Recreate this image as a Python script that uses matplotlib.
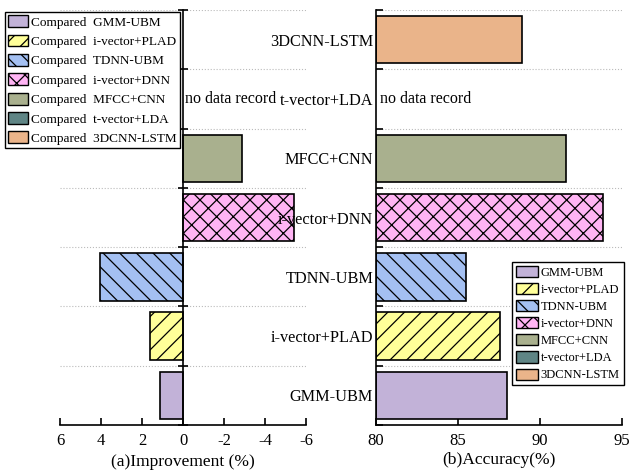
import numpy as np
import matplotlib
matplotlib.use('Agg')
import matplotlib.pyplot as plt
from matplotlib.patches import Patch

plt.rcParams['font.family'] = ['Liberation Serif', 'DejaVu Serif']
plt.rcParams['hatch.linewidth'] = 0.9

methods = ['GMM-UBM', 'i-vector+PLAD', 'TDNN-UBM', 'i-vector+DNN',
           'MFCC+CNN', 't-vector+LDA', '3DCNN-LSTM']
improvement = [1.1, 1.6, 4.05, -5.4, -2.9, np.nan, np.nan]
accuracy = [87.97, 87.55, 85.5, 93.85, 91.57, np.nan, 88.9]

colors = ['#c2b2d8', '#ffff99', '#a4c0f2', '#ffb4f4', '#a9b08e', '#5f8585', '#eab48a']
hatches = ['', '//', '\\\\', 'xx', '', '', '']

fig = plt.figure(figsize=(6.3, 4.75), dpi=100)
ax1 = fig.add_axes([60 / 630, 1 - 425 / 475, 246 / 630, 415 / 475])
ax2 = fig.add_axes([376 / 630, 1 - 425 / 475, 246 / 630, 415 / 475])

y = np.arange(len(methods))
for i in range(len(methods)):
    if not np.isnan(improvement[i]):
        ax1.barh(y[i], improvement[i], height=0.8, color=colors[i],
                 hatch=hatches[i], edgecolor='black', linewidth=1.2)
    if not np.isnan(accuracy[i]):
        ax2.barh(y[i], accuracy[i] - 80, left=80, height=0.8, color=colors[i],
                 hatch=hatches[i], edgecolor='black', linewidth=1.2)

# left panel
ax1.set_xlim(6, -6)
ax1.set_ylim(-0.5, 6.5)
ax1.spines['left'].set_position(('data', 0))
ax1.spines['right'].set_visible(False)
ax1.spines['top'].set_visible(False)
ax1.spines['left'].set_linewidth(1.2)
ax1.spines['bottom'].set_linewidth(1.2)
ax1.set_xticks([6, 4, 2, 0, -2, -4, -6])
ax1.set_xticklabels(['6', '4', '2', '0', '-2', '-4', '-6'])
ax1.set_yticks(np.arange(-0.5, 7, 1))
ax1.set_yticklabels([])
ax1.tick_params(axis='y', direction='inout', length=7, width=1.2)
ax1.tick_params(axis='x', direction='in', length=5, width=1.2, labelsize=12, pad=6)
ax1.yaxis.grid(True, linestyle=':', color='#bbbbbb', linewidth=0.8)
ax1.set_axisbelow(True)
ax1.set_xlabel('(a)Improvement (%)', fontsize=12.6, labelpad=3)
ax1.text(-0.1, 5, 'no data record', ha='left', va='center', fontsize=11.5)

# right panel
ax2.set_xlim(80, 95)
ax2.set_ylim(-0.5, 6.5)
ax2.spines['right'].set_visible(False)
ax2.spines['top'].set_visible(False)
ax2.spines['left'].set_linewidth(1.2)
ax2.spines['bottom'].set_linewidth(1.2)
ax2.set_xticks([80, 85, 90, 95])
ax2.set_yticks(np.arange(-0.5, 7, 1))
ax2.set_yticklabels([])
ax2.set_yticks(y, minor=True)
ax2.set_yticklabels(methods, minor=True, fontsize=11.7)
ax2.tick_params(axis='y', which='minor', length=0, pad=2)
ax2.tick_params(axis='y', which='major', direction='in', length=5, width=1.2)
ax2.tick_params(axis='x', direction='in', length=5, width=1.2, labelsize=12, pad=6)
ax2.yaxis.grid(True, which='major', linestyle=':', color='#bbbbbb', linewidth=0.8)
ax2.set_axisbelow(True)
ax2.set_xlabel('(b)Accuracy(%)', fontsize=12.6, labelpad=2)
ax2.text(80.25, 5, 'no data record', ha='left', va='center', fontsize=11.5)

handles = [Patch(facecolor=colors[i], hatch=hatches[i], edgecolor='black', linewidth=1.0)
           for i in range(len(methods))]

fig.legend(handles, ['Compared  ' + m for m in methods], loc='upper left',
           bbox_to_anchor=(5 / 630, 1 - 12 / 475), fontsize=9.5, frameon=True,
           fancybox=False, edgecolor='black', framealpha=1, borderpad=0.25,
           labelspacing=0.45, handlelength=1.5, handleheight=1.0, handletextpad=0.25,
           borderaxespad=0)

fig.legend(handles, methods, loc='upper left',
           bbox_to_anchor=(512 / 630, 1 - 262 / 475), fontsize=9, frameon=True,
           fancybox=False, edgecolor='black', framealpha=1, borderpad=0.3,
           labelspacing=0.34, handlelength=1.75, handleheight=1.0, handletextpad=0.25,
           borderaxespad=0)

fig.savefig('out.png', dpi=100)
